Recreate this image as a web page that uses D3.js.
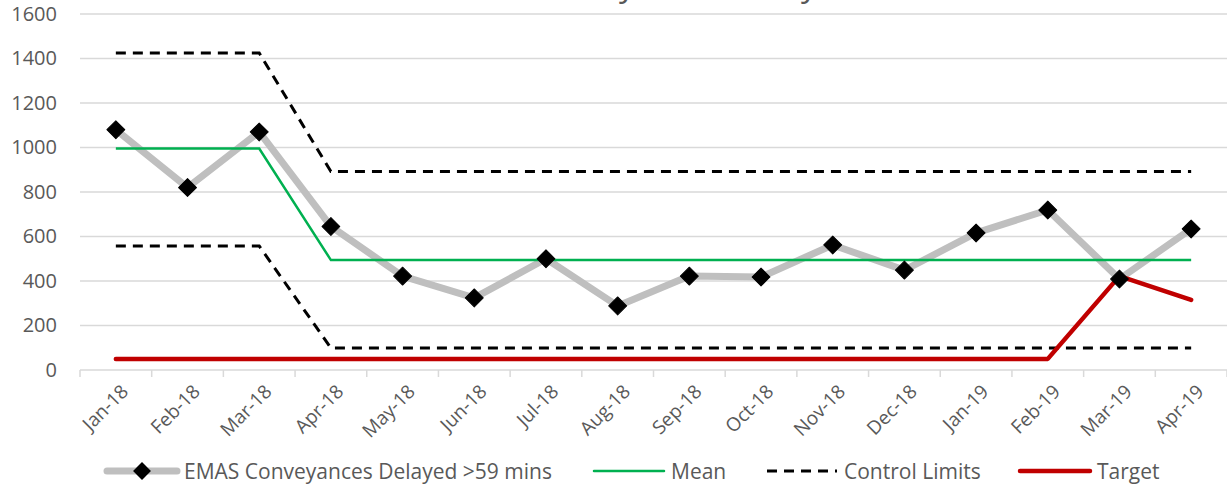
<!DOCTYPE html>
<html><head><meta charset="utf-8">
<script src="https://cdn.jsdelivr.net/npm/d3@7"></script>
<style>body{margin:0;background:#fff}svg{display:block}text{font-family:"Open Sans","Noto Sans",sans-serif}</style>
</head><body><svg id="c" width="1227" height="488"></svg>
<script>
const categories = ["Jan-18","Feb-18","Mar-18","Apr-18","May-18","Jun-18","Jul-18","Aug-18","Sep-18","Oct-18","Nov-18","Dec-18","Jan-19","Feb-19","Mar-19","Apr-19"];
const delayed = [1080,820,1070,645,422,324,500,288,422,418,562,449,616,719,409,634];
const mean = [995,995,995,494,494,494,494,494,494,494,494,494,494,494,494,494];
const ucl = [1425,1425,1425,892,892,892,892,892,892,892,892,892,892,892,892,892];
const lcl = [557,557,557,99,99,99,99,99,99,99,99,99,99,99,99,99];
const target = [50,50,50,50,50,50,50,50,50,50,50,50,50,50,422,315];
const yTicks = [0,200,400,600,800,1000,1200,1400,1600];
const seriesNames = ["EMAS Conveyances Delayed >59 mins","Mean","Control Limits","Target"];
const titleText = "EMAS Conveyances Delayed >59 mins";

const svg = d3.select("#c");
const x = d3.scaleBand().domain(categories).range([80,1227]);
const y = d3.scaleLinear().domain([0,1600]).range([370,14]);
const cx = d => x(d)+x.bandwidth()/2;

// gridlines
svg.append("g").selectAll("line").data(yTicks).join("line")
 .attr("x1",80).attr("x2",1227).attr("y1",d=>y(d)).attr("y2",d=>y(d))
 .attr("stroke","#d9d9d9").attr("stroke-width",1.5);

// y labels
const ya = svg.append("g").attr("transform","translate(80,0)")
 .call(d3.axisLeft(y).tickValues(yTicks).tickSize(0).tickPadding(23).tickFormat(d3.format("d")));
ya.select(".domain").remove();
ya.selectAll("text").attr("fill","#595959").style("font-size","20px");

// x axis ticks at boundaries
const bounds = categories.map(c=>x(c)).concat([1227]);
svg.append("g").selectAll("line").data(bounds).join("line")
 .attr("x1",d=>d).attr("x2",d=>d).attr("y1",370).attr("y2",377)
 .attr("stroke","#d9d9d9").attr("stroke-width",1.5);
svg.append("g").selectAll("text").data(categories).join("text")
 .attr("transform",d=>`translate(${cx(d)+9},${388}) rotate(-45)`)
 .attr("text-anchor","end").attr("dy","0.35em")
 .attr("fill","#595959").style("font-size","19px").text(d=>d);

// title (mostly cropped off, only descenders visible as in reference)
const t = svg.append("text").attr("x",0).attr("y",-4)
 .attr("fill","#595959").style("font-size","24px").text(titleText);
{
 const node = t.node();
 const i1 = titleText.indexOf("y"), i2 = titleText.indexOf("y", i1+1);
 const d = node.getStartPositionOfChar(i2).x - node.getStartPositionOfChar(i1).x;
 const fs = 24*182/d;
 t.style("font-size", fs+"px");
 const p1 = node.getStartPositionOfChar(i1).x;
 t.attr("x", 619 - p1).attr("y", -0.12*fs);
}

const line = d3.line().x((d,i)=>cx(categories[i])).y(d=>y(d));

svg.append("path").datum(delayed).attr("d",line).attr("fill","none")
 .attr("stroke","#bfbfbf").attr("stroke-width",7).attr("stroke-linejoin","round");
svg.append("path").datum(mean).attr("d",line).attr("fill","none")
 .attr("stroke","#00b050").attr("stroke-width",2.5);
[ucl,lcl].forEach(arr=>svg.append("path").datum(arr).attr("d",line).attr("fill","none")
 .attr("stroke","#000").attr("stroke-width",3).attr("stroke-dasharray","10,7"));
svg.append("path").datum(target).attr("d",line).attr("fill","none")
 .attr("stroke","#c00000").attr("stroke-width",4.5).attr("stroke-linecap","round").attr("stroke-linejoin","round");

// diamonds
const diamond = d3.symbol().type(d3.symbolSquare).size(160);
svg.append("g").selectAll("path").data(delayed).join("path")
 .attr("d",diamond)
 .attr("transform",(d,i)=>`translate(${cx(categories[i])},${y(d)}) rotate(45)`)
 .attr("fill","#000").attr("stroke","#000").attr("stroke-width",1).attr("stroke-linejoin","round");

// legend
const ly = 471;
const lg = svg.append("g");
const items = [
 {x:107, name:seriesNames[0], stroke:"#bfbfbf", w:7, dash:null, marker:true},
 {x:594, name:seriesNames[1], stroke:"#00b050", w:2.5, dash:null},
 {x:767, name:seriesNames[2], stroke:"#000", w:3, dash:"10,7"},
 {x:1020, name:seriesNames[3], stroke:"#c00000", w:4.5, dash:null}
];
items.forEach(it=>{
 lg.append("line").attr("x1",it.x).attr("x2",it.x+70).attr("y1",ly).attr("y2",ly)
  .attr("stroke",it.stroke).attr("stroke-width",it.w).attr("stroke-linecap",it.dash?"butt":"round")
  .attr("stroke-dasharray",it.dash);
 if(it.marker) lg.append("path").attr("d",diamond).attr("transform",`translate(${it.x+35},${ly}) rotate(45)`).attr("fill","#000");
 lg.append("text").attr("x",it.x+77).attr("y",ly).attr("dy","0.36em").attr("fill","#595959")
  .style("font-size","21px").text(it.name);
});
</script></body></html>
